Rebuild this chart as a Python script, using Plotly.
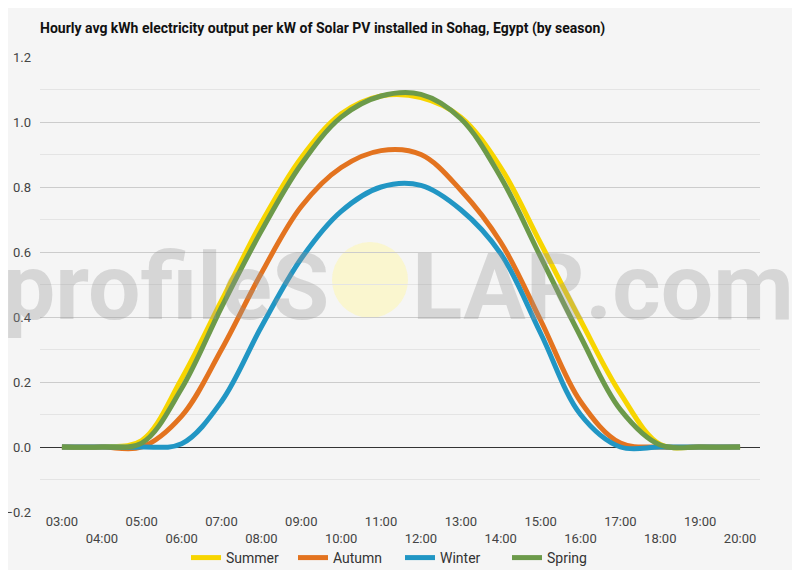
import plotly.graph_objects as go

# hourly data, 03:00 .. 20:00
hours = list(range(3, 21))
hour_labels = ["%02d:00" % h for h in hours]

summer = [0, 0, 0.02, 0.21, 0.45, 0.69, 0.89, 1.025, 1.08, 1.075, 1.015, 0.86, 0.627, 0.39, 0.165, 0.008, 0, 0]
autumn = [0, 0, 0.0, 0.095, 0.30, 0.535, 0.74, 0.86, 0.912, 0.90, 0.79, 0.63, 0.39, 0.14, 0.012, 0, 0, 0]
winter = [0, 0, 0, 0.01, 0.14, 0.37, 0.58, 0.725, 0.80, 0.805, 0.73, 0.595, 0.35, 0.10, 0.0, 0, 0, 0]
spring = [0, 0, 0.012, 0.18, 0.43, 0.665, 0.87, 1.015, 1.08, 1.085, 1.01, 0.83, 0.585, 0.34, 0.115, 0.006, 0, 0]

series = [
    ("Summer", summer, "#f7d500"),
    ("Autumn", autumn, "#e3731f"),
    ("Winter", winter, "#2196c4"),
    ("Spring", spring, "#6c9a4a"),
]

# page body has an 8px margin, so the figure is a bit smaller and shifted
OFF = 8
W, H = 800 - OFF, 570 - OFF
L, R, T, B = 40 - OFF, 40, 57 - OFF, 58
pw, ph = W - L - R, H - T - B


# helpers: screen pixel -> paper fraction
def px(x):
    return (x - OFF - L) / pw


def py(y):
    return (H - B - (y - OFF)) / ph


fig = go.Figure()
for name, vals, color in series:
    fig.add_trace(go.Scatter(
        x=hours, y=vals, name=name, mode="lines",
        line=dict(color=color, width=5, shape="spline", smoothing=1),
    ))

# stagger the tick labels in two rows like the original
ticktext = [lbl if i % 2 == 0 else "<br>" + lbl for i, lbl in enumerate(hour_labels)]

fig.update_layout(
    width=W, height=H,
    margin=dict(l=L, r=R, t=T, b=B),
    paper_bgcolor="#f5f5f5", plot_bgcolor="#f5f5f5",
    font=dict(family="Roboto", size=13, color="#444"),
    title=dict(
        text="<b>Hourly avg kWh electricity output per kW of Solar PV installed in Sohag, Egypt (by season)</b>",
        xref="container", x=L / W, xanchor="left",
        yref="container", y=1 - (28 - OFF) / H, yanchor="middle",
        font=dict(family="Roboto", size=14, color="#111"),
    ),
    xaxis=dict(
        range=[2.45, 20.5], tickvals=hours, ticktext=ticktext,
        showgrid=False, zeroline=False, ticks="", tickfont=dict(size=13),
        automargin=False,
    ),
    yaxis=dict(
        range=[-0.2, 1.2], tickvals=[-0.2, 0, 0.2, 0.4, 0.6, 0.8, 1.0, 1.2],
        tickformat=".1f", gridcolor="#cccccc", gridwidth=1,
        zeroline=True, zerolinecolor="#333", zerolinewidth=1,
        minor=dict(dtick=0.1, showgrid=True, gridcolor="#e4e4e4", gridwidth=1),
        tickfont=dict(size=13), ticklabelstandoff=8, automargin=False,
    ),
    legend=dict(
        orientation="h", x=0.5, xanchor="center",
        yref="container", y=1 - (558 - OFF) / H, yanchor="middle",
        font=dict(size=14, color="#333"), bgcolor="rgba(0,0,0,0)",
        itemwidth=30, entrywidth=62, entrywidthmode="pixels",
    ),
    showlegend=True,
)

# profileSOLAR watermark
fig.add_shape(
    type="circle", xref="paper", yref="paper", layer="below",
    x0=px(332), x1=px(408), y0=py(318), y1=py(242),
    fillcolor="rgba(250,246,200,0.85)", line=dict(width=0),
)
fig.add_annotation(
    text="profileS", xref="paper", yref="paper", x=px(331), xanchor="right",
    y=py(287), yanchor="middle", showarrow=False,
    font=dict(family="Roboto", size=93, weight="bold", color="rgba(150,150,150,0.32)"),
)
fig.add_annotation(
    text="LAR.com", xref="paper", yref="paper", x=px(410), xanchor="left",
    y=py(287), yanchor="middle", showarrow=False,
    font=dict(family="Roboto", size=93, weight="bold", color="rgba(150,150,150,0.32)"),
)

fig.write_html("out.html")
